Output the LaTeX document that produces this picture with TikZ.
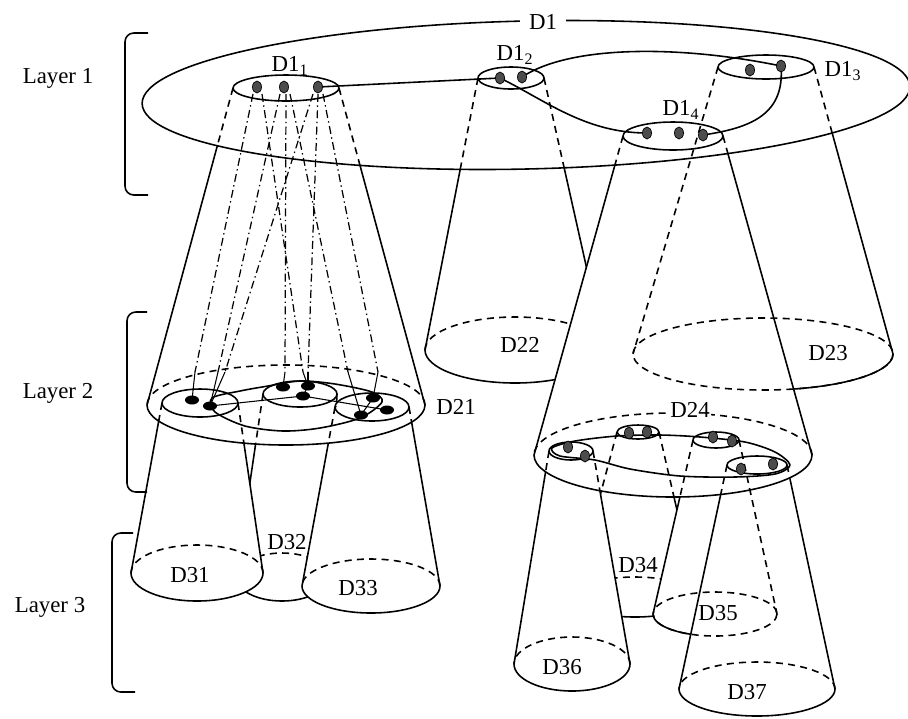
\documentclass[tikz,border=0pt]{standalone}
\usepackage{fontspec}
\setmainfont{Liberation Serif}

% base of a cone: back half hidden, front half seen
\newcommand\basering[3]{%
  \draw[hid] (#1) ++(#2,0) arc[start angle=0,end angle=-180,x radius=#2,y radius=#3];
  \draw (#1) ++(#2,0) arc[start angle=0,end angle=180,x radius=#2,y radius=#3];}

\begin{document}
\begin{tikzpicture}[x=0.02cm,y=-0.02cm,line width=0.9pt,line join=round,
  hid/.style={dash pattern=on 4pt off 3pt},
  proj/.style={line width=0.7pt,dash pattern=on 4.5pt off 2pt on 0.8pt off 2pt},
  pin/.style={line width=0.6pt},
  lbl/.style={font=\fontsize{13}{15}\selectfont,inner sep=1pt},
  bead/.style={fill=black!70,draw=black,line width=0.4pt},
  blob/.style={fill=black},
]
\useasboundingbox (0,0) rectangle (908,718);

% centres of the discs
\coordinate (D21c) at (286,405); \coordinate (D22c) at (515,350);
\coordinate (D23c) at (763,354); \coordinate (D24c) at (673,455);
\coordinate (D31c) at (197,573); \coordinate (D32c) at (282,577);
\coordinate (D33c) at (371,586); \coordinate (D34c) at (635,597);
\coordinate (D35c) at (715,614); \coordinate (D36c) at (572,664);
\coordinate (D37c) at (757,689);
% cone corners, layer 1 -> layer 2
\coordinate (a1l) at (233,88);  \coordinate (a1r) at (339,88);
\coordinate (a2l) at (478,78);  \coordinate (a2r) at (544,78);
\coordinate (a3l) at (718,67);  \coordinate (a3r) at (814,67);
\coordinate (a4l) at (623,136); \coordinate (a4r) at (723,136);
\coordinate (b21l) at (147,405); \coordinate (b21r) at (425,405);
\coordinate (b22l) at (425,350); \coordinate (b22r) at (605,350);
\coordinate (b23l) at (633,354); \coordinate (b23r) at (893,354);
\coordinate (b24l) at (534,455); \coordinate (b24r) at (812,455);
% cone corners, layer 2 -> layer 3
\coordinate (c31l) at (162,403); \coordinate (c31r) at (238,403);
\coordinate (c32l) at (263,394); \coordinate (c32r) at (337,394);
\coordinate (c33l) at (335,407); \coordinate (c33r) at (409,407);
\coordinate (c36l) at (549,451); \coordinate (c36r) at (593,451);
\coordinate (c34l) at (617,432); \coordinate (c34r) at (659,432);
\coordinate (c35l) at (693,440); \coordinate (c35r) at (739,440);
\coordinate (c37l) at (727,465); \coordinate (c37r) at (787,465);
\coordinate (e31l) at (131,573); \coordinate (e31r) at (263,573);
\coordinate (e32l) at (236,577); \coordinate (e32r) at (328,577);
\coordinate (e33l) at (302,586); \coordinate (e33r) at (440,586);
\coordinate (e34l) at (573,597); \coordinate (e34r) at (697,597);
\coordinate (e35l) at (653,614); \coordinate (e35r) at (777,614);
\coordinate (e36l) at (514,664); \coordinate (e36r) at (630,664);
\coordinate (e37l) at (679,689); \coordinate (e37r) at (835,689);

\def\discZ{(526,95) ellipse (384 and 74)}
\def\discA{(D21c) ellipse (139 and 40)}
\def\discB{(D24c) ellipse (139 and 42)}
\def\silDtf{(a4l) -- (a4r) -- (b24r) arc[start angle=0,end angle=180,x radius=139,y radius=42] -- cycle}
\def\silDto{(c31l) -- (c31r) -- (e31r) arc[start angle=0,end angle=180,x radius=66,y radius=28] -- cycle}
\def\silDtt{(c33l) -- (c33r) -- (e33r) arc[start angle=0,end angle=180,x radius=69,y radius=27] -- cycle}
\def\silDts{(c36l) -- (c36r) -- (e36r) arc[start angle=0,end angle=180,x radius=58,y radius=27] -- cycle}
\def\silDtv{(c35l) -- (c35r) -- (e35r) arc[start angle=0,end angle=180,x radius=62,y radius=22] -- cycle}
\def\silDtw{(c37l) -- (c37r) -- (e37r) arc[start angle=0,end angle=180,x radius=78,y radius=27] -- cycle}

% layer 1 cones, hidden under D1
\begin{scope}
  \clip[rotate around={1.3:(526,95)}] \discZ;
  \foreach \p/\q in {a1l/b21l,a1r/b21r,a2l/b22l,a2r/b22r,a3r/b23r,a4l/b24l,a4r/b24r}
    \draw[hid] (\p) -- (\q);
\end{scope}
\begin{scope}[even odd rule]
  \clip[rotate around={1.3:(526,95)}] (-50,-50) rectangle (960,770) \discZ;
  \foreach \p/\q in {a1l/b21l,a1r/b21r,a2l/b22l,a3r/b23r,a4l/b24l,a4r/b24r}
    \draw (\p) -- (\q);
  \clip (-50,-50) rectangle (960,770) \silDtf;
  \draw (a2r) -- (b22r);
  \basering{D22c}{90}{33}
\end{scope}
\draw[hid] (a3l) -- (b23l);
\draw[hid] (D23c) ellipse (130 and 36);
\begin{scope}[even odd rule]
  \clip (-50,-50) rectangle (960,770) \silDtf;
  \draw (D23c) ++(130,0) arc[start angle=0,end angle=180,x radius=130,y radius=36];
\end{scope}
\foreach \c/\a/\b in {D21c/139/40,D24c/139/42,D31c/66/28,D33c/69/27,D36c/58/27,D37c/78/27}
  {\basering{\c}{\a}{\b}}

% layer 2 -> layer 3 under D21
\begin{scope}[even odd rule]
  \clip \discA;
  \foreach \p/\q in {c31l/e31l,c31r/e31r,c33l/e33l,c33r/e33r} \draw[hid] (\p) -- (\q);
  \clip (-50,-50) rectangle (960,770) \silDto \silDtt;
  \draw[hid] (c32l) -- (e32l) (c32r) -- (e32r);
\end{scope}
\begin{scope}[even odd rule]
  \clip (-50,-50) rectangle (960,770) \discA;
  \foreach \p/\q in {c31l/e31l,c31r/e31r,c33l/e33l,c33r/e33r} \draw (\p) -- (\q);
  \clip (-50,-50) rectangle (960,770) \silDto \silDtt;
  \draw (c32l) -- (e32l) (c32r) -- (e32r);
  \basering{D32c}{46}{24}
\end{scope}

% layer 2 -> layer 3 under D24
\begin{scope}[even odd rule]
  \clip \discB;
  \foreach \p/\q in {c36l/e36l,c36r/e36r,c35l/e35l,c37l/e37l,c37r/e37r} \draw[hid] (\p) -- (\q);
  \clip (-50,-50) rectangle (960,770) \silDts \silDtv;
  \draw[hid] (c34l) -- (e34l) (c34r) -- (e34r);
\end{scope}
\begin{scope}[even odd rule]
  \clip (-50,-50) rectangle (960,770) \discB;
  \foreach \p/\q in {c36l/e36l,c36r/e36r,c35l/e35l,c37l/e37l,c37r/e37r} \draw (\p) -- (\q);
  \clip (-50,-50) rectangle (960,770) \silDts \silDtv;
  \draw (c34l) -- (e34l) (c34r) -- (e34r);
  \basering{D34c}{62}{20}
\end{scope}
\draw[hid] (c35r) -- (e35r);
\draw[hid] (D35c) ellipse (62 and 22);
\begin{scope}[even odd rule]
  \clip (-50,-50) rectangle (960,770) \silDtw;
  \draw (D35c) ++(62,0) arc[start angle=0,end angle=180,x radius=62,y radius=22];
\end{scope}

% D1 and its parts
\draw[rotate around={1.3:(526,95)}] \discZ;
\draw (286,88) ellipse (53 and 13) (511,78) ellipse (33 and 11)
      (766,67) ellipse (48 and 12) (673,136) ellipse (50 and 14);
\coordinate (p1) at (257,87); \coordinate (p2) at (284,87); \coordinate (p3) at (318,87);
\coordinate (q1) at (500,78); \coordinate (q2) at (522,77);
\coordinate (r1) at (750,70); \coordinate (r2) at (781,66);
\coordinate (s1) at (647,133); \coordinate (s2) at (679,133); \coordinate (s3) at (703,135);
\draw (p3) -- (q1);
\draw (q2) .. controls (570,45) and (680,45) .. (r2);
\draw (r2) .. controls (785,115) and (750,128) .. (s3);
\draw (q1) .. controls (545,100) and (585,133) .. (s1);
\foreach \d in {p1,p2,p3,q1,q2,r1,r2,s1,s2,s3}
  \draw[bead] (\d) ellipse (4.5 and 6);

% projections from D1_1 down to D21
\coordinate (dA1) at (192,400); \coordinate (dA2) at (210,406);
\coordinate (dB1) at (283,387); \coordinate (dB2) at (308,386); \coordinate (dB3) at (303,396);
\coordinate (dC1) at (373,398); \coordinate (dC2) at (387,410); \coordinate (dC3) at (361,415);
\foreach \s/\e/\d in {253/195/dA1,262/303/dB2,280/218/dA2,286/285/dB1,290/348/dC3,313/225/dA2,318/308/dB2,323/378/dC1}{
  \draw[proj] (\s,94) -- (\e,372);
  \draw[pin] (\e,372) -- (\d);}

% inside D21
\draw (200,403) ellipse (38 and 14) (300,394) ellipse (37 and 13) (372,407) ellipse (37 and 14);
\draw plot[smooth cycle] coordinates {(212,398) (240,391) (268,386) (300,381) (335,384)
  (372,392) (382,402) (360,418) (320,428) (283,431) (245,426) (215,412)};
\draw[pin] (dA2) -- (dB3) -- (dB2) (dB3) -- (dC2) (dC1) -- (dC3);
\foreach \d in {dA1,dA2,dB1,dB2,dB3,dC1,dC2,dC3}
  \fill[blob] (\d) ellipse (7 and 4.5);

% inside D24
\draw (571,451) ellipse (22 and 9) (638,432) ellipse (21 and 7)
      (716,440) ellipse (23 and 8) (757,465) ellipse (30 and 9);
\draw plot[smooth cycle] coordinates {(552,448) (575,441) (617,436) (660,435) (700,437)
  (745,442) (775,452) (790,465) (775,474) (735,477) (680,476) (630,469) (595,460) (560,456)};
\foreach \x/\y in {568/447,585/456,629/433,647/432,713/437,732/441,741/469,773/464}
  \draw[bead] (\x,\y) ellipse (4.5 and 6);

% labels
\node[lbl,fill=white,inner xsep=5pt] (n1) at (543,22) {D1};
\node[lbl] (n11) at (290,66) {D1\textsubscript{1}};
\node[lbl] (n12) at (515,55) {D1\textsubscript{2}};
\node[lbl] (n13) at (843,71) {D1\textsubscript{3}};
\node[lbl] (n14) at (681,110) {D1\textsubscript{4}};
\node[lbl] (n21) at (456,407) {D21};
\node[lbl] (n22) at (520,345) {D22};
\node[lbl] (n23) at (828,353) {D23};
\node[lbl,fill=white,inner ysep=0pt] (n24) at (690,410) {D24};
\node[lbl] (n31) at (190,575) {D31};
\node[lbl] (n32) at (287,542) {D32};
\node[lbl] (n33) at (358,588) {D33};
\node[lbl] (n34) at (638,565) {D34};
\node[lbl] (n35) at (718,613) {D35};
\node[lbl] (n36) at (562,667) {D36};
\node[lbl] (n37) at (747,692) {D37};

% layers
\node[lbl] (l1) at (58,78) {Layer 1};
\node[lbl] (l2) at (58,393) {Layer 2};
\node[lbl] (l3) at (50,607) {Layer 3};
\draw[rounded corners=5pt] (148,33) -- (125,33) -- (125,195) -- (148,195);
\draw[rounded corners=5pt] (147,312) -- (127,312) -- (127,492) -- (147,492);
\draw[rounded corners=5pt] (133,533) -- (112,533) -- (112,692) -- (135,692);
\end{tikzpicture}
\end{document}
